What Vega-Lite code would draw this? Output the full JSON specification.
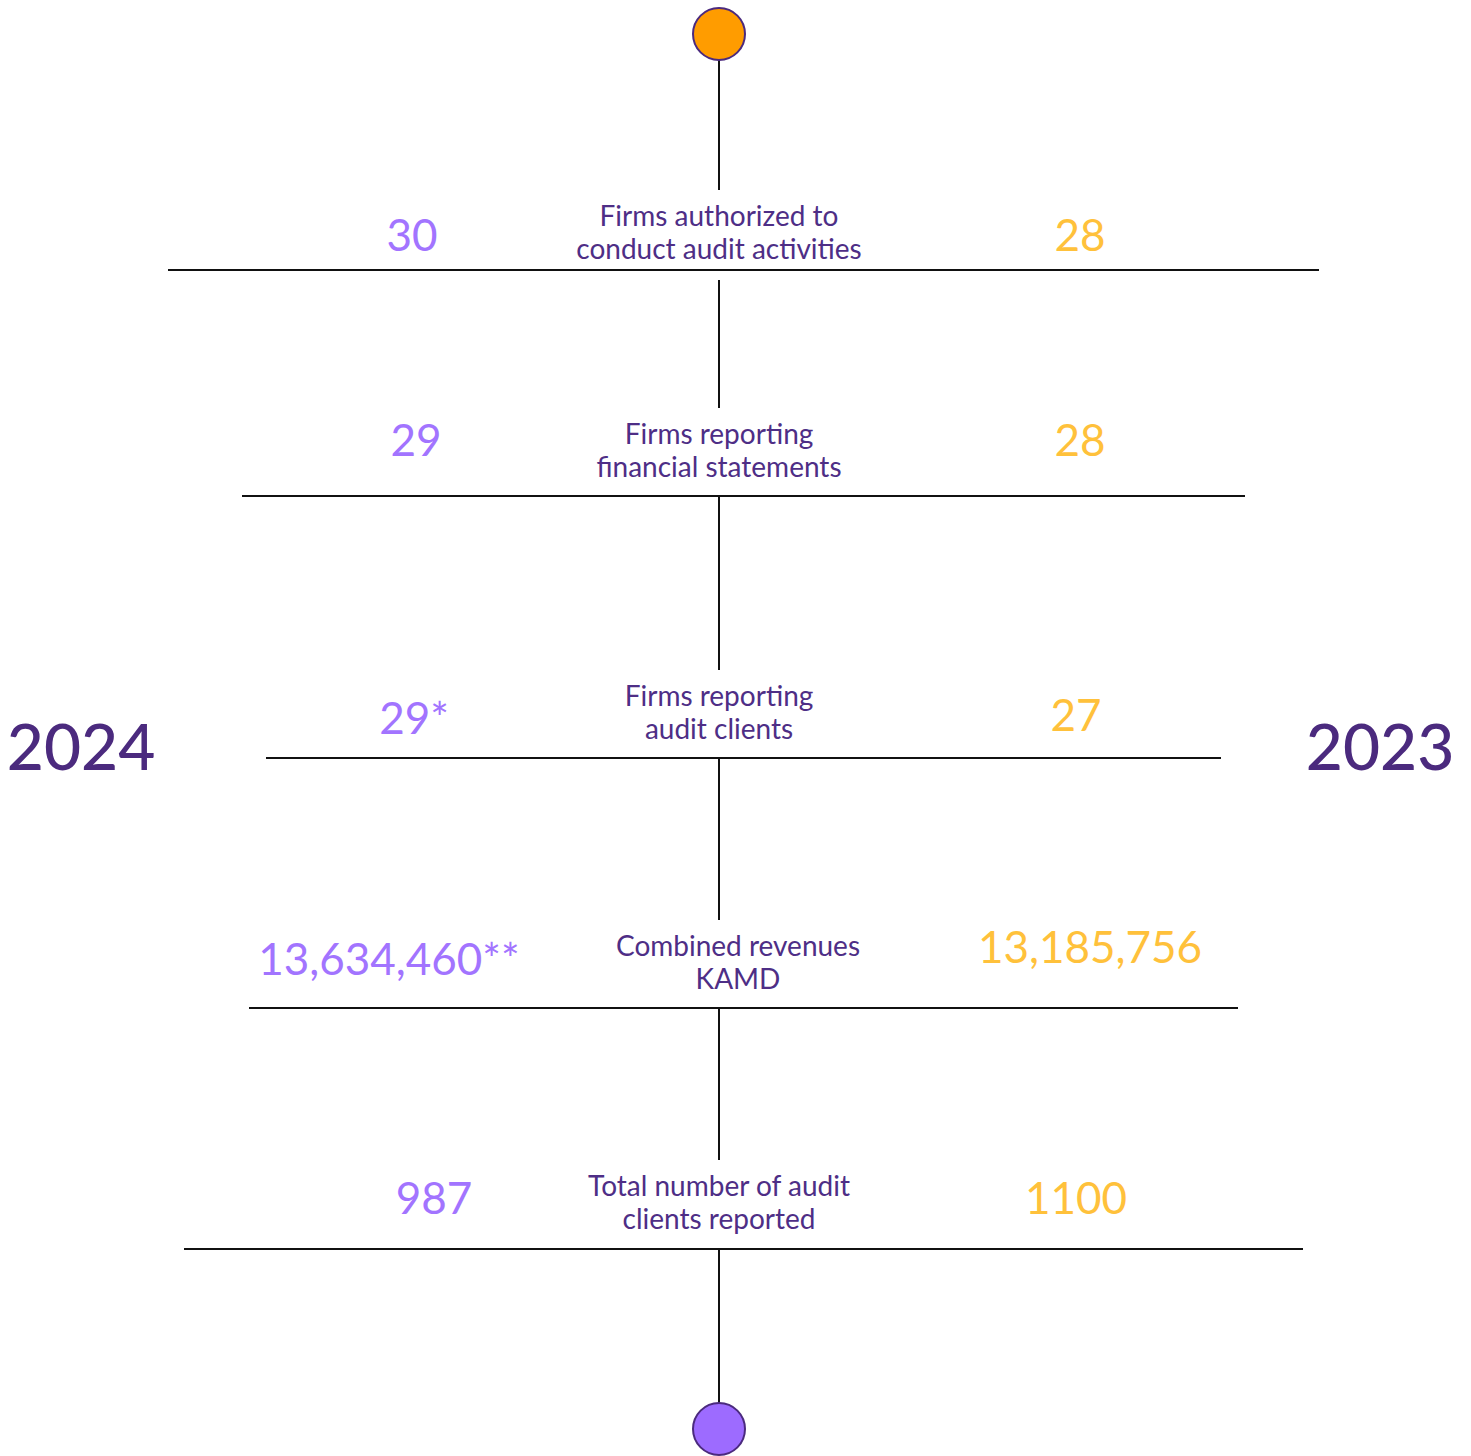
{
  "$schema": "https://vega.github.io/schema/vega-lite/v6.json",
  "width": 1471,
  "height": 1456,
  "autosize": "none",
  "padding": 0,
  "background": "white",
  "config": {"view": {"stroke": null}},
  "datasets": {
    "connectors": [
      {"x": 719, "y1": 60, "y2": 190},
      {"x": 719, "y1": 280, "y2": 408},
      {"x": 719, "y1": 497, "y2": 670},
      {"x": 719, "y1": 758, "y2": 920},
      {"x": 719, "y1": 1008, "y2": 1160},
      {"x": 719, "y1": 1250, "y2": 1403}
    ],
    "dividers": [
      {"y": 270, "x1": 168, "x2": 1319},
      {"y": 496, "x1": 242, "x2": 1245},
      {"y": 758, "x1": 266, "x2": 1221},
      {"y": 1008, "x1": 249, "x2": 1238},
      {"y": 1249, "x1": 184, "x2": 1303}
    ],
    "ends": [
      {"end": "top", "x": 719, "y": 34},
      {"end": "bottom", "x": 719, "y": 1429}
    ],
    "labels": [
      {"label": ["Firms authorized to", "conduct audit activities"], "x": 719, "y": 226},
      {"label": ["Firms reporting", "financial statements"], "x": 719, "y": 444},
      {"label": ["Firms reporting", "audit clients"], "x": 719, "y": 706},
      {"label": ["Combined revenues", "KAMD"], "x": 738, "y": 956},
      {"label": ["Total number of audit", "clients reported"], "x": 719, "y": 1196}
    ],
    "values": [
      {"year": "2024", "value": "30", "x": 412, "y": 251},
      {"year": "2023", "value": "28", "x": 1080, "y": 251},
      {"year": "2024", "value": "29", "x": 416, "y": 456},
      {"year": "2023", "value": "28", "x": 1080, "y": 456},
      {"year": "2024", "value": "29*", "x": 414, "y": 734},
      {"year": "2023", "value": "27", "x": 1076, "y": 731},
      {"year": "2024", "value": "13,634,460**", "x": 389, "y": 975},
      {"year": "2023", "value": "13,185,756", "x": 1090, "y": 963},
      {"year": "2024", "value": "987", "x": 434, "y": 1214},
      {"year": "2023", "value": "1100", "x": 1076, "y": 1214}
    ],
    "years": [
      {"year": "2024", "x": 81, "y": 770},
      {"year": "2023", "x": 1380, "y": 770}
    ]
  },
  "layer": [
    {
      "data": {"name": "connectors"},
      "mark": {"type": "rule", "color": "#111111", "strokeWidth": 2},
      "encoding": {
        "x": {"field": "x", "type": "quantitative", "scale": {"domain": [0, 1471], "nice": false, "zero": false}, "axis": null},
        "y": {"field": "y1", "type": "quantitative", "scale": {"domain": [1456, 0], "nice": false, "zero": false}, "axis": null},
        "y2": {"field": "y2"}
      }
    },
    {
      "data": {"name": "dividers"},
      "mark": {"type": "rule", "color": "#111111", "strokeWidth": 2},
      "encoding": {
        "x": {"field": "x1", "type": "quantitative"},
        "x2": {"field": "x2"},
        "y": {"field": "y", "type": "quantitative"}
      }
    },
    {
      "data": {"name": "ends"},
      "mark": {"type": "point", "shape": "circle", "filled": true, "size": 2704, "stroke": "#4B2A7E", "strokeWidth": 2, "opacity": 1},
      "encoding": {
        "x": {"field": "x", "type": "quantitative"},
        "y": {"field": "y", "type": "quantitative"},
        "fill": {"field": "end", "type": "nominal", "scale": {"domain": ["top", "bottom"], "range": ["#FF9C00", "#9D6BFF"]}, "legend": null}
      }
    },
    {
      "data": {"name": "labels"},
      "mark": {"type": "text", "font": "Lato", "fontSize": 28, "lineHeight": 33, "align": "center", "baseline": "alphabetic", "color": "#4E2E86"},
      "encoding": {
        "x": {"field": "x", "type": "quantitative"},
        "y": {"field": "y", "type": "quantitative"},
        "text": {"field": "label"}
      }
    },
    {
      "data": {"name": "values"},
      "mark": {"type": "text", "font": "Lato", "fontSize": 44, "fontWeight": 400, "align": "center", "baseline": "alphabetic"},
      "encoding": {
        "x": {"field": "x", "type": "quantitative"},
        "y": {"field": "y", "type": "quantitative"},
        "text": {"field": "value"},
        "color": {"field": "year", "type": "nominal", "scale": {"domain": ["2024", "2023"], "range": ["#A274FF", "#FFC13B"]}, "legend": null}
      }
    },
    {
      "data": {"name": "years"},
      "mark": {"type": "text", "font": "Lato", "fontSize": 64, "fontWeight": 500, "align": "center", "baseline": "alphabetic", "color": "#4B2A7E"},
      "encoding": {
        "x": {"field": "x", "type": "quantitative"},
        "y": {"field": "y", "type": "quantitative"},
        "text": {"field": "year"}
      }
    }
  ]
}
